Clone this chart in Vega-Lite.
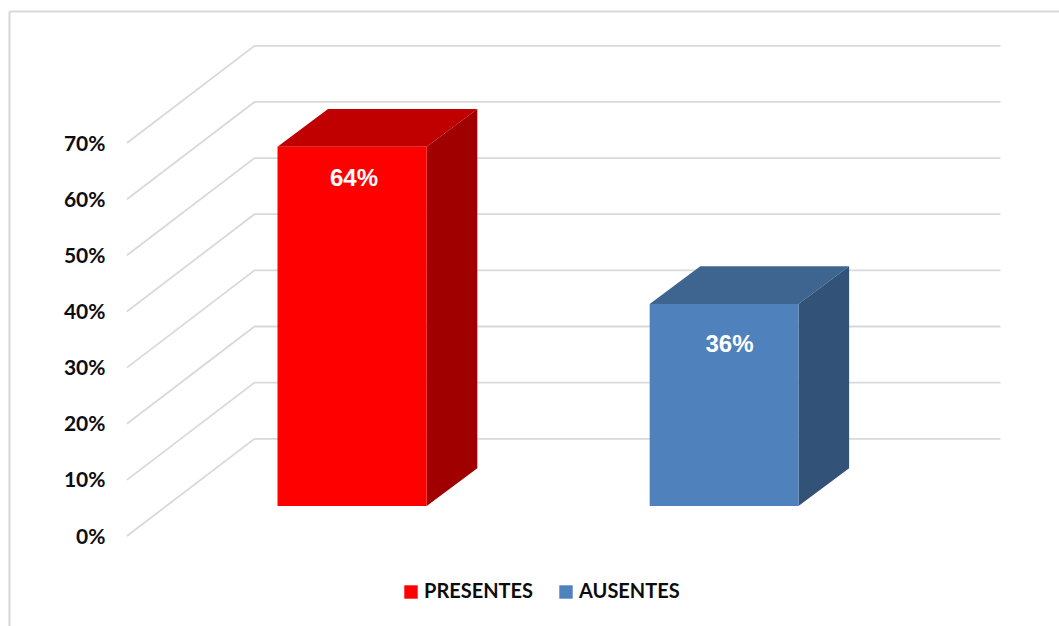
{
"$schema":"https://vega.github.io/schema/vega-lite/v6.json",
"width":1059,"height":626,"padding":0,"autosize":{"type":"none"},"background":"white",
"config":{"view":{"stroke":null}},
"encoding":{
"x":{"field":"x","type":"quantitative","scale":{"domain":[0.05349,2.9003],"nice":false,"zero":false},"axis":null},
"y":{"field":"y","type":"quantitative","scale":{"domain":[-0.1603,0.9548],"nice":false,"zero":false},
"axis":{"values":[0,0.1,0.2,0.3,0.4,0.5,0.6,0.7],"format":".0%","title":null,"grid":false,"ticks":false,"domain":false,"offset":-105,"labelPadding":0,"labelOffset":1,"labelFont":"Lato","labelFontWeight":"bold","labelFontSize":21,"labelColor":"#0d0d0d","labelBound":false,"labelFlush":false}}
},
"layer":[
{"data":{"values":[
{"nivel":0,"x":0.3947,"y":0},{"nivel":0,"x":0.7376,"y":0.1732},{"nivel":0,"x":2.743,"y":0.1732},
{"nivel":1,"x":0.3947,"y":0.1},{"nivel":1,"x":0.7376,"y":0.2732},{"nivel":1,"x":2.743,"y":0.2732},
{"nivel":2,"x":0.3947,"y":0.2},{"nivel":2,"x":0.7376,"y":0.3732},{"nivel":2,"x":2.743,"y":0.3732},
{"nivel":3,"x":0.3947,"y":0.3},{"nivel":3,"x":0.7376,"y":0.4732},{"nivel":3,"x":2.743,"y":0.4732},
{"nivel":4,"x":0.3947,"y":0.4},{"nivel":4,"x":0.7376,"y":0.5732},{"nivel":4,"x":2.743,"y":0.5732},
{"nivel":5,"x":0.3947,"y":0.5},{"nivel":5,"x":0.7376,"y":0.6732},{"nivel":5,"x":2.743,"y":0.6732},
{"nivel":6,"x":0.3947,"y":0.6},{"nivel":6,"x":0.7376,"y":0.7732},{"nivel":6,"x":2.743,"y":0.7732},
{"nivel":7,"x":0.3947,"y":0.7},{"nivel":7,"x":0.7376,"y":0.8732},{"nivel":7,"x":2.743,"y":0.8732}
]},
"mark":{"type":"line","color":"#d9d9d9","strokeWidth":1.8,"interpolate":"linear"},
"encoding":{"detail":{"field":"nivel","type":"nominal"},"order":{"field":"x","type":"quantitative"}}},
{"data":{"values":[
{"x":0.07903,"y":0.9343,"x2":2.9003,"y2":0.9343},
{"x":0.07903,"y":-0.1603,"x2":0.07903,"y2":0.9343}
]},
"mark":{"type":"rule","color":"#d9d9d9","strokeWidth":2.2},
"encoding":{"x2":{"field":"x2"},"y2":{"field":"y2"}}},
{"data":{"values":[
{"cara":"PRESENTES superior","x":0.7995,"y":0.6934,"y2":0.6934},
{"cara":"PRESENTES superior","x":0.9352,"y":0.7606,"y2":0.6934},
{"cara":"PRESENTES superior","x":1.2005,"y":0.7606,"y2":0.6934},
{"cara":"PRESENTES superior","x":1.3366,"y":0.7606,"y2":0.7606},
{"cara":"PRESENTES lateral","x":1.2005,"y":0.6934,"y2":0.0534},
{"cara":"PRESENTES lateral","x":1.3366,"y":0.7606,"y2":0.1206},
{"cara":"AUSENTES superior","x":1.8,"y":0.4134,"y2":0.4134},
{"cara":"AUSENTES superior","x":1.9361,"y":0.4806,"y2":0.4134},
{"cara":"AUSENTES superior","x":2.2,"y":0.4806,"y2":0.4134},
{"cara":"AUSENTES superior","x":2.3361,"y":0.4806,"y2":0.4806},
{"cara":"AUSENTES lateral","x":2.2,"y":0.4134,"y2":0.0534},
{"cara":"AUSENTES lateral","x":2.3361,"y":0.4806,"y2":0.1206}
]},
"mark":{"type":"area","interpolate":"linear","orient":"vertical","opacity":1,"line":false},
"encoding":{
"y":{"field":"y","type":"quantitative","stack":null},
"y2":{"field":"y2"},
"color":{"field":"cara","type":"nominal","legend":null,"scale":{"domain":["PRESENTES superior","PRESENTES lateral","AUSENTES superior","AUSENTES lateral"],"range":["#c00000","#a00000","#3e6490","#325278"]}}}},
{"data":{"values":[
{"serie":"PRESENTES","valor":0.64,"x":0.7995,"x2":1.2005,"y":0.6934,"y2":0.0534},
{"serie":"AUSENTES","valor":0.36,"x":1.8,"x2":2.2,"y":0.4134,"y2":0.0534}
]},
"mark":{"type":"rect"},
"encoding":{"x2":{"field":"x2"},"y2":{"field":"y2"},
"fill":{"field":"serie","type":"nominal","scale":{"domain":["PRESENTES","AUSENTES"],"range":["#ff0000","#4f81bd"]},
"legend":{"orient":"none","legendX":401,"legendY":582,"direction":"horizontal","columns":2,"title":null,"symbolType":"square","symbolSize":180,"symbolStrokeWidth":0,"labelFont":"Lato","labelFontWeight":"bold","labelFontSize":20,"labelColor":"#0d0d0d","columnPadding":22,"labelOffset":3,"symbolOpacity":1}}}},
{"data":{"values":[
{"etiqueta":"64%","x":1.005,"y":0.636},
{"etiqueta":"36%","x":2.0145,"y":0.3403}
]},
"mark":{"type":"text","color":"white","font":"Liberation Sans","fontWeight":"bold","fontSize":24,"align":"center","baseline":"middle"},
"encoding":{"text":{"field":"etiqueta","type":"nominal"}}}
]
}
